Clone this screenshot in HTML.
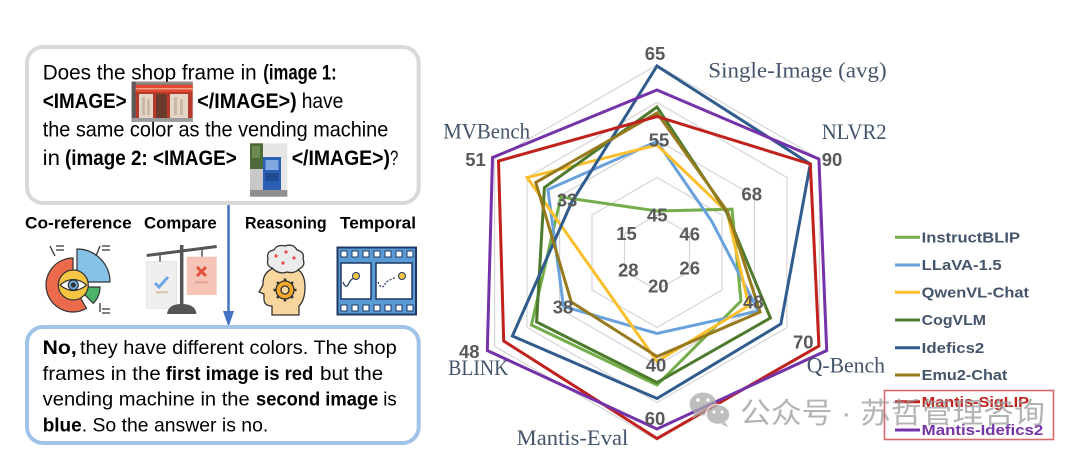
<!DOCTYPE html>
<html><head><meta charset="utf-8"><style>
html,body{margin:0;padding:0;background:#fff;}
svg{display:block;}
.r{font-family:"Liberation Sans",sans-serif;fill:#000;}
.b{font-family:"Liberation Sans",sans-serif;font-weight:bold;fill:#000;}
.tk{font-family:"Liberation Sans",sans-serif;font-weight:bold;font-size:18.5px;fill:#595959;text-anchor:middle;}
.ax{font-family:"Liberation Serif",serif;font-size:22px;fill:#44546a;}
.lg{font-family:"Liberation Sans",sans-serif;font-weight:bold;font-size:15px;fill:#44546a;}
</style></head><body>
<svg width="1080" height="455" viewBox="0 0 1080 455" xmlns="http://www.w3.org/2000/svg">
<rect width="1080" height="455" fill="#fff"/>

<!-- ===== LEFT PANEL ===== -->
<rect x="27" y="47" width="391.7" height="156" rx="16" fill="#fff" stroke="#d9d9d9" stroke-width="4"/>
<g font-size="21">
<text class="r" x="42.7" y="79.5" textLength="214" lengthAdjust="spacingAndGlyphs">Does the shop frame in</text>
<text class="b" x="263.3" y="79.5" textLength="73.4" lengthAdjust="spacingAndGlyphs">(image 1:</text>
<text class="b" x="42.7" y="108" textLength="84" lengthAdjust="spacingAndGlyphs">&lt;IMAGE&gt;</text>
<text class="b" x="197.3" y="108" textLength="99.4" lengthAdjust="spacingAndGlyphs">&lt;/IMAGE&gt;)</text>
<text class="r" x="301.7" y="108" textLength="41.6" lengthAdjust="spacingAndGlyphs">have</text>
<text class="r" x="42.7" y="136.5" textLength="345.6" lengthAdjust="spacingAndGlyphs">the same color as the vending machine</text>
<text class="r" x="42.7" y="165" textLength="17.3" lengthAdjust="spacingAndGlyphs">in</text>
<text class="b" x="65" y="165" textLength="171.7" lengthAdjust="spacingAndGlyphs">(image 2: &lt;IMAGE&gt;</text>
<text class="b" x="291.7" y="165" textLength="98.3" lengthAdjust="spacingAndGlyphs">&lt;/IMAGE&gt;)</text>
<text class="r" x="390" y="165" textLength="8.3" lengthAdjust="spacingAndGlyphs">?</text>
</g>
<!-- thumbnail 1: red shop -->
<g>
<rect x="131.7" y="81.7" width="61" height="40" fill="#b63a2b"/>
<rect x="131.7" y="81.7" width="61" height="3" fill="#8a8a8a"/>
<rect x="131.7" y="81.7" width="4" height="40" fill="#5a5a5a"/>
<rect x="135.7" y="85" width="57" height="7" fill="#e0482f"/>
<rect x="135.7" y="88" width="57" height="1.5" fill="#f2a08a"/>
<rect x="139" y="94" width="14" height="24" fill="#e3d6c6"/>
<rect x="156" y="94" width="11" height="24" fill="#6a3a2a"/>
<rect x="170" y="94" width="18" height="24" fill="#e3d6c6"/>
<rect x="142" y="97" width="3" height="18" fill="#c9b9a4"/>
<rect x="147" y="99" width="3" height="16" fill="#c9b9a4"/>
<rect x="174" y="97" width="3" height="18" fill="#c9b9a4"/>
<rect x="180" y="99" width="3" height="16" fill="#c9b9a4"/>
<rect x="131.7" y="118" width="61" height="3.7" fill="#9a9a9a"/>
</g>
<!-- thumbnail 2: vending machine -->
<g>
<rect x="250" y="143.3" width="37.3" height="53.4" fill="#e6e6e6"/>
<rect x="250" y="143.3" width="13" height="26" fill="#4d6a3a"/>
<rect x="252" y="146" width="8" height="12" fill="#6b8a52"/>
<rect x="250" y="169" width="13" height="24" fill="#c8c8c8"/>
<rect x="263" y="157" width="18" height="33" fill="#2a5fb4"/>
<rect x="265.5" y="160" width="13" height="10" fill="#7fa8e0"/>
<rect x="265.5" y="173" width="13" height="8" fill="#1f4a8f"/>
<rect x="250" y="190" width="37.3" height="6.7" fill="#8f8f8f"/>
</g>

<!-- arrow -->
<line x1="228.5" y1="205" x2="228.5" y2="314" stroke="#4472c4" stroke-width="2.5"/>
<polygon points="223,311 234,311 228.5,327" fill="#4472c4"/>

<!-- category labels -->
<g font-size="17">
<text class="b" x="25" y="228.3" textLength="106.7" lengthAdjust="spacingAndGlyphs">Co-reference</text>
<text class="b" x="144" y="228.3" textLength="72.7" lengthAdjust="spacingAndGlyphs">Compare</text>
<text class="b" x="245" y="228.3" textLength="81.7" lengthAdjust="spacingAndGlyphs">Reasoning</text>
<text class="b" x="340" y="228.3" textLength="76" lengthAdjust="spacingAndGlyphs">Temporal</text>
</g>

<!-- Co-reference icon -->
<g stroke="#333" stroke-width="1.2" stroke-linejoin="round">
<path d="M 86.5 308.4 A 27 27 0 1 1 73 258 L 73 272 A 13 13 0 1 0 79.5 296.3 Z" fill="#ec6a4c"/>
<path d="M 77 282 L 77 249 A 33 33 0 0 1 110 282 Z" fill="#86c2e8"/>
<path d="M 77 287 L 100 287 A 23 23 0 0 1 93.3 303.3 Z" fill="#4cb36a"/>
<circle cx="73.3" cy="285" r="15" fill="#f5c542"/>
<path d="M 60 285 Q 73.3 274 86.6 285 Q 73.3 296 60 285 Z" fill="#fff"/>
<circle cx="73.3" cy="285" r="5" fill="#6fb3e6"/>
<circle cx="73.3" cy="285" r="2" fill="#333"/>
</g>
<g stroke="#333" stroke-width="1.3" fill="none">
<path d="M 50 246 L 55 256 M 56 246 L 64 246 M 56 250 L 64 250"/>
<path d="M 100 246 L 96 256 M 102 246 L 110 246 M 102 250 L 110 250"/>
<path d="M 100 303 L 100 312 M 102 309 L 110 309 M 102 313 L 110 313"/>
</g>

<!-- Compare icon -->
<g>
<rect x="146.7" y="261.7" width="30" height="46.6" fill="#f1eeee" stroke="#e0dcdc" stroke-width="0.8"/>
<path d="M 155 283 L 159 287 L 168 277" stroke="#6ea6ea" stroke-width="3" fill="none"/>
<rect x="156" y="291" width="12" height="2.5" fill="#d9ccb4"/>
<rect x="186.7" y="256.7" width="30" height="38.3" fill="#f6c3b7"/>
<path d="M 197 267 L 206 276 M 206 267 L 197 276" stroke="#e5503f" stroke-width="3"/>
<rect x="195" y="281" width="13" height="2.5" fill="#e6a89a"/>
<line x1="146.7" y1="255.5" x2="216.7" y2="246.5" stroke="#555" stroke-width="3"/>
<line x1="181.7" y1="245" x2="181.7" y2="308" stroke="#555" stroke-width="3.5"/>
<line x1="160" y1="254" x2="160" y2="261.7" stroke="#555" stroke-width="1.5"/>
<line x1="202" y1="248.5" x2="202" y2="256.7" stroke="#555" stroke-width="1.5"/>
<path d="M 167 314 Q 168 304 181.7 304 Q 195.5 304 196.5 314 Z" fill="#555"/>
</g>

<!-- Reasoning icon -->
<g stroke="#333" stroke-width="1.3" stroke-linejoin="round">
<path d="M 272 315 L 272 306 Q 264 306 264 299 L 264 294 L 259 292 L 263 285 Q 262 268 283 266 Q 305 265 305 287 Q 305 300 299 306 L 299 315 Z" fill="#f8d69e"/>
<path d="M 272 268 Q 266 266 268 259 Q 266 251 274 250 Q 277 244 285 246 Q 293 243 297 250 Q 305 252 303 259 Q 306 266 299 269 Q 295 274 287 272 Q 279 275 272 268 Z" fill="#ececec"/>
<circle cx="285" cy="290" r="9" fill="#f3a72b"/>
<circle cx="285" cy="290" r="4" fill="#f8d69e"/>
</g>
<g fill="#e05050">
<circle cx="276" cy="256" r="1.6"/><circle cx="286" cy="252" r="1.6"/><circle cx="294" cy="258" r="1.6"/><circle cx="283" cy="263" r="1.6"/>
</g>
<g stroke="#333" stroke-width="2.5">
<line x1="285" y1="278.5" x2="285" y2="281.5"/><line x1="285" y1="298.5" x2="285" y2="301.5"/>
<line x1="273.5" y1="290" x2="276.5" y2="290"/><line x1="293.5" y1="290" x2="296.5" y2="290"/>
<line x1="277" y1="282" x2="279" y2="284"/><line x1="291" y1="296" x2="293" y2="298"/>
<line x1="293" y1="282" x2="291" y2="284"/><line x1="277" y1="298" x2="279" y2="296"/>
</g>

<!-- Temporal icon -->
<g>
<rect x="337.5" y="247.5" width="78.5" height="67" fill="#5b9bd5" stroke="#1f3864" stroke-width="2"/>
<g fill="#fff" stroke="#1f3864" stroke-width="1">
<rect x="341" y="251" width="6" height="6"/><rect x="352" y="251" width="6" height="6"/><rect x="363" y="251" width="6" height="6"/><rect x="374" y="251" width="6" height="6"/><rect x="385" y="251" width="6" height="6"/><rect x="396" y="251" width="6" height="6"/><rect x="407" y="251" width="6" height="6"/>
<rect x="341" y="305" width="6" height="6"/><rect x="352" y="305" width="6" height="6"/><rect x="363" y="305" width="6" height="6"/><rect x="374" y="305" width="6" height="6"/><rect x="385" y="305" width="6" height="6"/><rect x="396" y="305" width="6" height="6"/><rect x="407" y="305" width="6" height="6"/>
<rect x="341" y="263" width="30" height="36" stroke-width="1.5"/>
<rect x="376" y="263" width="36" height="36" stroke-width="1.5"/>
</g>
<path d="M 343 282 Q 346 290 349 283 Q 351 279 354 278" stroke="#1f3864" stroke-width="1.2" fill="none"/>
<circle cx="356" cy="276" r="3.5" fill="#f5c542" stroke="#1f3864" stroke-width="1"/>
<path d="M 378 282 Q 382 292 386 282 L 396 277" stroke="#1f3864" stroke-width="1.2" fill="none" stroke-dasharray="2,1.5"/>
<circle cx="402" cy="276" r="3.5" fill="#f5c542" stroke="#1f3864" stroke-width="1"/>
</g>

<!-- bottom answer box -->
<rect x="27" y="327" width="391.7" height="116" rx="16" fill="#fff" stroke="#9fc4e7" stroke-width="4"/>
<g font-size="19.5">
<text class="b" x="42.7" y="354" textLength="34" lengthAdjust="spacingAndGlyphs">No,</text>
<text class="r" x="80" y="354" textLength="316.7" lengthAdjust="spacingAndGlyphs">they have different colors. The shop</text>
<text class="r" x="42.7" y="380" textLength="118" lengthAdjust="spacingAndGlyphs">frames in the</text>
<text class="b" x="165.7" y="380" textLength="147.6" lengthAdjust="spacingAndGlyphs">first image is red</text>
<text class="r" x="320" y="380" textLength="63.3" lengthAdjust="spacingAndGlyphs">but the</text>
<text class="r" x="42.7" y="405.5" textLength="207" lengthAdjust="spacingAndGlyphs">vending machine in the</text>
<text class="b" x="256" y="405.5" textLength="122.3" lengthAdjust="spacingAndGlyphs">second image</text>
<text class="r" x="383.3" y="405.5" textLength="13.4" lengthAdjust="spacingAndGlyphs">is</text>
<text class="b" x="42.7" y="431.5" textLength="39" lengthAdjust="spacingAndGlyphs">blue</text>
<text class="r" x="81.7" y="431.5" textLength="186.6" lengthAdjust="spacingAndGlyphs">. So the answer is no.</text>
</g>

<!-- ===== RADAR CHART ===== -->
<g fill="none" stroke="#d6d6d6" stroke-width="1.2">
<polygon points="657,215 689.5,233.75 689.5,271.25 657,290 624.5,271.25 624.5,233.75"/>
<polygon points="657,177.5 722,215 722,290 657,327.5 592,290 592,215"/>
<polygon points="657,140 754.4,196.25 754.4,308.75 657,365 559.6,308.75 559.6,196.25"/>
<polygon points="657,102.5 786.9,177.5 786.9,327.5 657,402.5 527.1,327.5 527.1,177.5"/>
<polygon points="657,65 819.4,158.75 819.4,346.25 657,440 494.6,346.25 494.6,158.75"/>
</g>

<g fill="none" stroke-width="3" stroke-linejoin="miter">
<polygon stroke="#74ae4b" points="657,211 732,209.2 741,301 657,385 531.4,325 560.9,197"/>
<polygon stroke="#69a1dc" points="657,141.5 711.6,221 758.3,311 657,333.5 563.5,306.5 547.9,189.5"/>
<polygon stroke="#fbbf2d" points="657,145 727.1,212 748.8,305.5 657,361.5 602.4,284 527.1,177.5"/>
<polygon stroke="#4d7a2d" points="657,107 726.6,212.3 770.4,318 657,382.5 536.6,322 544.4,187.5"/>
<polygon stroke="#2f5b8d" points="657,66 810.3,164 780.8,324 657,398.5 512.4,336 571.3,203"/>
<polygon stroke="#977a1d" points="657,113 727.6,211.8 760.1,312 657,356.5 571.3,302 535.8,182.5"/>
<polygon stroke="#c0211c" points="657,116.5 810.3,164 818.9,346 657,438.5 503.7,341 498.5,161"/>
<polygon stroke="#7433a8" points="657,90 818.9,159 826.7,350.5 657,429 487.3,350.5 492.5,157.5"/>
</g>

<!-- tick labels -->
<g class="tk">
<text class="tk" x="655" y="60">65</text>
<text class="tk" x="659" y="146.7">55</text>
<text class="tk" x="657.3" y="221.7">45</text>
<text class="tk" x="475.5" y="166.2">51</text>
<text class="tk" x="567" y="206.4">33</text>
<text class="tk" x="626.5" y="240.2">15</text>
<text class="tk" x="832" y="166.2">90</text>
<text class="tk" x="751.7" y="200.7">68</text>
<text class="tk" x="689.7" y="240.7">46</text>
<text class="tk" x="628.3" y="276.7">28</text>
<text class="tk" x="689.7" y="274.7">26</text>
<text class="tk" x="658.3" y="292.7">20</text>
<text class="tk" x="753.3" y="308.4">48</text>
<text class="tk" x="563" y="313.4">38</text>
<text class="tk" x="656" y="371.7">40</text>
<text class="tk" x="803.3" y="348.4">70</text>
<text class="tk" x="469.3" y="358">48</text>
<text class="tk" x="655" y="425">60</text>
</g>

<!-- axis labels -->
<text class="ax" x="708.3" y="77.3" textLength="178.4" lengthAdjust="spacingAndGlyphs">Single-Image (avg)</text>
<text class="ax" x="443.3" y="138.3" textLength="86.7" lengthAdjust="spacingAndGlyphs">MVBench</text>
<text class="ax" x="821.7" y="139" textLength="65" lengthAdjust="spacingAndGlyphs">NLVR2</text>
<text class="ax" x="806.7" y="372.7" textLength="78.3" lengthAdjust="spacingAndGlyphs">Q-Bench</text>
<text class="ax" x="448.3" y="375" textLength="60" lengthAdjust="spacingAndGlyphs">BLINK</text>
<text class="ax" x="516.7" y="445" textLength="111.6" lengthAdjust="spacingAndGlyphs">Mantis-Eval</text>

<!-- legend -->
<g stroke-width="3">
<line x1="895" y1="237.3" x2="920" y2="237.3" stroke="#74ae4b"/>
<line x1="895" y1="265" x2="920" y2="265" stroke="#69a1dc"/>
<line x1="895" y1="292.3" x2="920" y2="292.3" stroke="#fbbf2d"/>
<line x1="895" y1="320" x2="920" y2="320" stroke="#4d7a2d"/>
<line x1="895" y1="347.7" x2="920" y2="347.7" stroke="#2f5b8d"/>
<line x1="895" y1="375" x2="920" y2="375" stroke="#977a1d"/>
<line x1="895" y1="401.7" x2="920" y2="401.7" stroke="#c0211c"/>
<line x1="895" y1="430" x2="920" y2="430" stroke="#7433a8"/>
</g>
<text class="lg" x="921.7" y="242.5" textLength="98.3" lengthAdjust="spacingAndGlyphs">InstructBLIP</text>
<text class="lg" x="921.7" y="270.2" textLength="80" lengthAdjust="spacingAndGlyphs">LLaVA-1.5</text>
<text class="lg" x="921.7" y="297.5" textLength="107.3" lengthAdjust="spacingAndGlyphs">QwenVL-Chat</text>
<text class="lg" x="921.7" y="325.2" textLength="64.3" lengthAdjust="spacingAndGlyphs">CogVLM</text>
<text class="lg" x="921.7" y="352.9" textLength="62.6" lengthAdjust="spacingAndGlyphs">Idefics2</text>
<text class="lg" x="921.7" y="380.2" textLength="85.6" lengthAdjust="spacingAndGlyphs">Emu2-Chat</text>
<text class="lg" x="921.7" y="406.9" textLength="107.3" lengthAdjust="spacingAndGlyphs" style="fill:#c0211c">Mantis-SigLIP</text>
<text class="lg" x="921.7" y="435.2" textLength="121.6" lengthAdjust="spacingAndGlyphs" style="fill:#7433a8">Mantis-Idefics2</text>
<rect x="884.5" y="390.5" width="169" height="49" fill="none" stroke="#d66a6a" stroke-width="1.6"/>

<!-- watermark -->
<g opacity="0.75">
<ellipse cx="703" cy="404" rx="13.5" ry="11.5" fill="#a9a9a9"/>
<path d="M 694 413 L 692 419 L 699 415 Z" fill="#a9a9a9"/>
<ellipse cx="718" cy="414.5" rx="12" ry="10" fill="#a9a9a9" stroke="#fff" stroke-width="1.5"/>
<path d="M 725 422 L 728 427 L 721 424 Z" fill="#a9a9a9"/>
<circle cx="698" cy="400" r="1.8" fill="#fff"/><circle cx="708" cy="400" r="1.8" fill="#fff"/>
<circle cx="714" cy="412" r="1.5" fill="#fff"/><circle cx="722" cy="412" r="1.5" fill="#fff"/>
<text x="740" y="423" font-family="'Liberation Sans','Noto Sans CJK SC',sans-serif" font-size="29" fill="#9a9a9a" textLength="305" lengthAdjust="spacingAndGlyphs">公众号 · 苏哲管理咨询</text>
</g>
</svg>
</body></html>
